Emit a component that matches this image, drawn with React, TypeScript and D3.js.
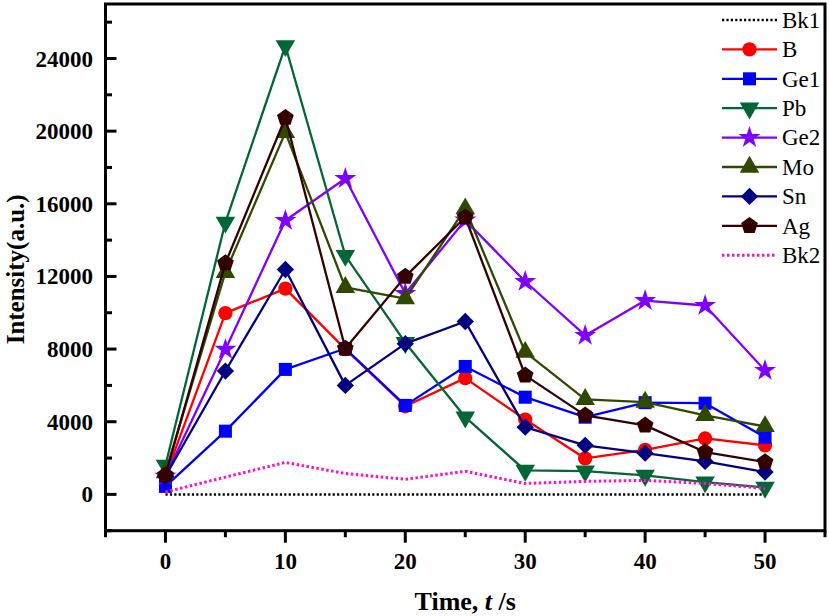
import React from "react";
import * as d3 from "d3";

const times = [0, 5, 10, 15, 20, 25, 30, 35, 40, 45, 50];
const bk1 = [0, 0, 0, 0, 0, 0, 0, 0, 0, 0, 0];
const bB = [1000, 9980, 11330, 8000, 4850, 6400, 4120, 1980, 2450, 3080, 2700];
const ge1 = [440, 3480, 6880, 8030, 4900, 7040, 5350, 4250, 5050, 5020, 3150];
const pb = [1600, 14980, 24700, 13150, 8350, 4250, 1320, 1280, 1045, 680, 385];
const ge2 = [1000, 7980, 15080, 17390, 11060, 15100, 11720, 8750, 10670, 10400, 6820];
const mo = [1200, 12230, 19930, 11400, 10780, 15730, 7830, 5230, 5080, 4350, 3740];
const sn = [1000, 6790, 12380, 6000, 8300, 9520, 3700, 2700, 2270, 1815, 1230];
const ag = [1050, 12730, 20740, 8030, 11990, 15260, 6550, 4350, 3800, 2330, 1780];
const bk2 = [130, 950, 1760, 1150, 830, 1270, 600, 715, 770, 600, 330];

const xMajor = [0, 10, 20, 30, 40, 50];
const xMinor = [-5, 5, 15, 25, 35, 45, 55];
const yMajor = [0, 4000, 8000, 12000, 16000, 20000, 24000];
const yMinor = [-2000, 2000, 6000, 10000, 14000, 18000, 22000, 26000];

type Series = { name: string; values: number[]; color: string; marker: string | null; width?: number; dash?: string };

const series: Series[] = [
  { name: "Bk1", values: bk1, color: "#000000", marker: null, width: 2.5, dash: "2.2 2.2" },
  { name: "B", values: bB, color: "#ff0000", marker: "circle" },
  { name: "Ge1", values: ge1, color: "#0000ff", marker: "square" },
  { name: "Pb", values: pb, color: "#036637", marker: "tdown" },
  { name: "Ge2", values: ge2, color: "#8000ff", marker: "star" },
  { name: "Mo", values: mo, color: "#2f4a00", marker: "tup" },
  { name: "Sn", values: sn, color: "#000080", marker: "diamond" },
  { name: "Ag", values: ag, color: "#330000", marker: "pentagon" },
  { name: "Bk2", values: bk2, color: "#ff10c8", marker: null, width: 3, dash: "2.5 2.5" },
];

const W = 829, H = 616;
const left = 105.5, right = 825, top = 4, bottom = 530.7;

const x = d3.scaleLinear().domain([-5, 55]).range([left, right]);
const y = d3.scaleLinear().domain([-2000, 27000]).range([bottom, top]);

function pentagonPath(r: number) {
  const pts: string[] = [];
  for (let i = 0; i < 5; i++) {
    const a = -Math.PI / 2 + (i * 2 * Math.PI) / 5;
    pts.push(`${(r * Math.cos(a)).toFixed(2)},${(r * Math.sin(a)).toFixed(2)}`);
  }
  return "M" + pts.join("L") + "Z";
}

function markerPath(m: string): { d: string; rot: number } {
  switch (m) {
    case "circle":
      return { d: d3.symbol(d3.symbolCircle, 160)() as string, rot: 0 };
    case "square":
      return { d: d3.symbol(d3.symbolSquare, 170)() as string, rot: 0 };
    case "tdown":
      return { d: d3.symbol(d3.symbolTriangle, 165)() as string, rot: 180 };
    case "tup":
      return { d: d3.symbol(d3.symbolTriangle, 165)() as string, rot: 0 };
    case "star":
      return { d: d3.symbol(d3.symbolStar, 150)() as string, rot: 0 };
    case "diamond":
      return { d: d3.symbol(d3.symbolSquare, 150)() as string, rot: 45 };
    case "pentagon":
      return { d: pentagonPath(8.8), rot: 0 };
  }
  return { d: "", rot: 0 };
}

const font = "'Liberation Serif', 'Times New Roman', Times, serif";

export default function App() {
  const line = d3
    .line<number>()
    .x((_, i) => x(times[i]))
    .y((v) => y(v));

  const legendX1 = 722, legendX2 = 777, legendTextX = 782;
  const legendY0 = 20, legendDy = 29.4;

  return (
    <svg width={W} height={H} style={{ position: "absolute", left: 0, top: 0, background: "#fff" }} fontFamily={font}>
      <rect x={0} y={0} width={W} height={H} fill="#fff" />
      {series.map((s) => (
        <g key={s.name}>
          <path
            d={line(s.values) as string}
            fill="none"
            stroke={s.color}
            strokeWidth={s.width ?? 2.3}
            strokeDasharray={s.dash}
            strokeLinejoin="round"
          />
          {s.marker &&
            s.values.map((v, i) => {
              const mp = markerPath(s.marker as string);
              return (
                <path
                  key={i}
                  d={mp.d}
                  transform={`translate(${x(times[i])},${y(v)}) rotate(${mp.rot})`}
                  fill={s.color}
                />
              );
            })}
        </g>
      ))}
      <rect x={left} y={top} width={right - left} height={bottom - top} fill="none" stroke="#000" strokeWidth={3} />
      {yMajor.map((v) => (
        <g key={"ym" + v}>
          <line x1={left} x2={left + 11} y1={y(v)} y2={y(v)} stroke="#000" strokeWidth={3} />
          <text x={93} y={y(v)} dy="0.35em" textAnchor="end" fontSize={23} fontWeight="bold">
            {v}
          </text>
        </g>
      ))}
      {yMinor.map((v) => (
        <line key={"yn" + v} x1={left} x2={left + 6.5} y1={y(v)} y2={y(v)} stroke="#000" strokeWidth={3} />
      ))}
      {xMajor.map((v) => (
        <g key={"xm" + v}>
          <line x1={x(v)} x2={x(v)} y1={bottom} y2={bottom + 12} stroke="#000" strokeWidth={3} />
          <text x={x(v)} y={569} textAnchor="middle" fontSize={23} fontWeight="bold">
            {v}
          </text>
        </g>
      ))}
      {xMinor.map((v) => (
        <line key={"xn" + v} x1={x(v)} x2={x(v)} y1={bottom} y2={bottom + 6.5} stroke="#000" strokeWidth={3} />
      ))}
      <text x={(left + right) / 2} y={610} textAnchor="middle" fontSize={26} fontWeight="bold">
        Time, <tspan fontStyle="italic">t</tspan> /s
      </text>
      <text
        transform={`translate(24,${(top + bottom) / 2 + 2}) rotate(-90)`}
        textAnchor="middle"
        fontSize={25}
        fontWeight="bold"
      >
        Intensity(a.u.)
      </text>
      {series.map((s, i) => {
        const ly = legendY0 + i * legendDy;
        const mp = s.marker ? markerPath(s.marker) : null;
        return (
          <g key={"lg" + s.name}>
            <line
              x1={legendX1}
              x2={legendX2}
              y1={ly}
              y2={ly}
              stroke={s.color}
              strokeWidth={s.width ?? 2.3}
              strokeDasharray={s.dash}
            />
            {mp && (
              <path d={mp.d} transform={`translate(${(legendX1 + legendX2) / 2},${ly}) rotate(${mp.rot})`} fill={s.color} />
            )}
            <text x={legendTextX} y={ly} dy="0.34em" fontSize={23}>
              {s.name}
            </text>
          </g>
        );
      })}
    </svg>
  );
}
